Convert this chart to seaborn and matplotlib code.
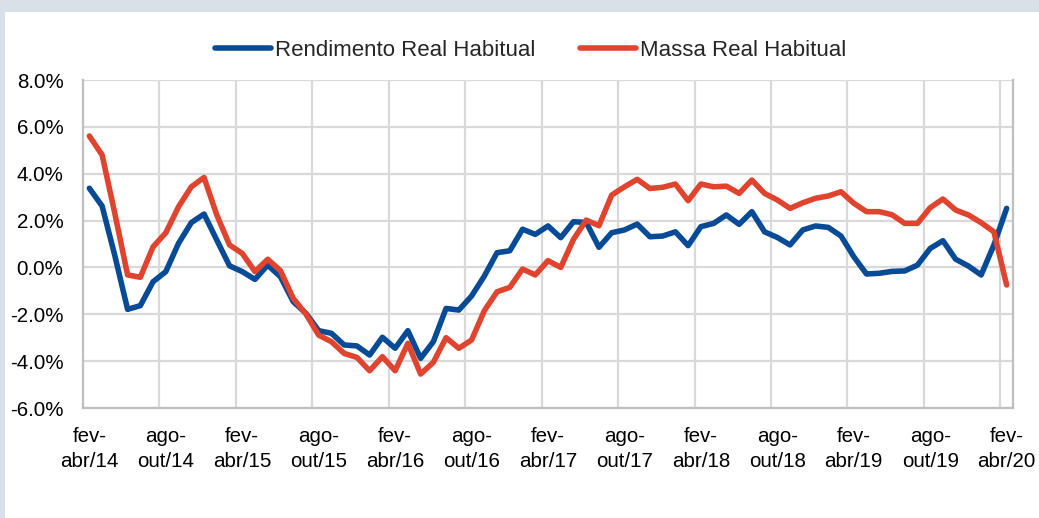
import matplotlib
matplotlib.use("Agg")
import matplotlib.pyplot as plt
from matplotlib import font_manager
from matplotlib.patches import Rectangle
from matplotlib.ticker import FixedLocator, FuncFormatter
import seaborn as sns
import pandas as pd
import numpy as np

# ---------------- data ----------------
series_names = ["Rendimento Real Habitual", "Massa Real Habitual"]
rendimento = [3.38, 2.62, 0.5, -1.79, -1.63, -0.61, -0.18, 1.03, 1.91, 2.28,
              1.17, 0.07, -0.18, -0.51, 0.10, -0.40, -1.46, -1.96, -2.70, -2.81,
              -3.31, -3.35, -3.74, -2.98, -3.45, -2.70, -3.88, -3.17, -1.75, -1.82,
              -1.22, -0.37, 0.63, 0.71, 1.63, 1.41, 1.77, 1.27, 1.95, 1.92,
              0.86, 1.48, 1.60, 1.85, 1.31, 1.34, 1.52, 0.93, 1.74, 1.88,
              2.24, 1.84, 2.38, 1.52, 1.28, 0.96, 1.60, 1.77, 1.71, 1.34,
              0.46, -0.28, -0.25, -0.17, -0.15, 0.10, 0.81, 1.14, 0.35, 0.06,
              -0.32, 0.96, 2.52]
massa = [5.61, 4.80, 2.3, -0.32, -0.42, 0.88, 1.48, 2.59, 3.44, 3.84,
         2.24, 0.96, 0.60, -0.18, 0.35, -0.14, -1.32, -1.99, -2.89, -3.17,
         -3.67, -3.84, -4.41, -3.81, -4.41, -3.24, -4.55, -4.05, -3.00, -3.45,
         -3.10, -1.85, -1.04, -0.85, -0.07, -0.32, 0.29, 0.00, 1.2, 2.02,
         1.78, 3.09, 3.44, 3.76, 3.37, 3.42, 3.56, 2.85, 3.56, 3.44,
         3.47, 3.16, 3.73, 3.16, 2.88, 2.52, 2.76, 2.95, 3.05, 3.23,
         2.74, 2.38, 2.38, 2.25, 1.88, 1.88, 2.55, 2.92, 2.45, 2.24,
         1.91, 1.52, -0.75]
tick_labels = ["fev-\nabr/14", "ago-\nout/14", "fev-\nabr/15", "ago-\nout/15",
               "fev-\nabr/16", "ago-\nout/16", "fev-\nabr/17", "ago-\nout/17",
               "fev-\nabr/18", "ago-\nout/18", "fev-\nabr/19", "ago-\nout/19",
               "fev-\nabr/20"]
y_ticks = [-6, -4, -2, 0, 2, 4, 6, 8]

colors = {"Rendimento Real Habitual": "#074b96", "Massa Real Habitual": "#e0432e"}

# ---------------- style ----------------
sns.set_theme(style="white")
available = {f.name for f in font_manager.fontManager.ttflist}
if "Liberation Sans Narrow" in available:
    plt.rcParams["font.family"] = ["Liberation Sans Narrow", "Liberation Sans", "DejaVu Sans"]
    fs_tick, fs_leg = 17, 19
else:
    plt.rcParams["font.family"] = ["Liberation Sans", "DejaVu Sans"]
    fs_tick, fs_leg = 14.8, 16

n = len(rendimento)
df = pd.DataFrame({
    "idx": list(range(n)) * 2,
    "valor": rendimento + massa,
    "serie": [series_names[0]] * n + [series_names[1]] * n,
})

fig = plt.figure(figsize=(10.39, 5.18), dpi=100, facecolor="#d9e1e8")
fig.patches.append(Rectangle((5 / 1039, 0), 1, 1 - 12 / 518, transform=fig.transFigure,
                             facecolor="white", edgecolor="none", zorder=-10))
ax = fig.add_axes([83 / 1039, 1 - 408 / 518, 930 / 1039, 328 / 518])
ax.set_facecolor("none")

sns.lineplot(data=df, x="idx", y="valor", hue="serie", palette=colors,
             hue_order=series_names, linewidth=4.0, ax=ax, legend=False, zorder=3)

ax.set_xlim(-0.5, n - 0.5)
ax.set_ylim(-6, 8)
ax.set_xlabel("")
ax.set_ylabel("")

major_x = list(range(0, n, 6))
ax.set_xticks(major_x)
ax.set_xticklabels(tick_labels, fontsize=fs_tick, color="black", linespacing=1.4)
ax.xaxis.set_minor_locator(FixedLocator([m + 5.5 for m in range(0, n - 6, 6)]))
ax.set_yticks(y_ticks)
ax.yaxis.set_major_formatter(FuncFormatter(lambda v, p: f"{v:.1f}%"))
ax.tick_params(axis="y", labelsize=fs_tick, colors="black", length=0, pad=14)
ax.tick_params(axis="x", which="both", length=0, pad=14)

ax.grid(False)
ax.yaxis.grid(True, which="major", color="#d9d9d9", linewidth=1.6, zorder=0)
ax.xaxis.grid(True, which="minor", color="#d9d9d9", linewidth=1.6, zorder=0)
ax.set_axisbelow(True)

for side in ["left", "bottom", "right"]:
    ax.spines[side].set_visible(True)
    ax.spines[side].set_color("#bfbfbf")
    ax.spines[side].set_linewidth(1.6)
ax.spines["top"].set_visible(False)

handles = [plt.Line2D([], [], color=colors[s], linewidth=4.0, solid_capstyle="round")
           for s in series_names]
fig.legend(handles, series_names, loc="center", bbox_to_anchor=(531 / 1039, 1 - 50 / 518),
           ncol=2, frameon=False, fontsize=fs_leg, handlelength=2.5, handletextpad=0.2,
           columnspacing=2.0)

fig.savefig("out.png", dpi=100, facecolor=fig.get_facecolor())
